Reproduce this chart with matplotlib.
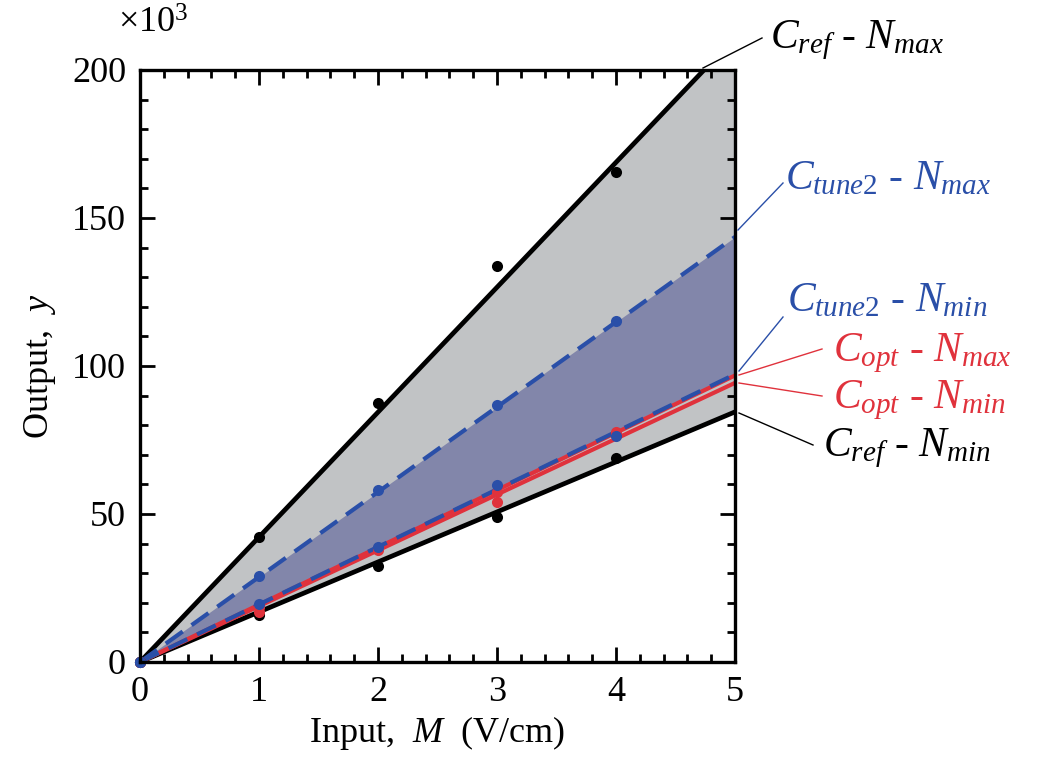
import numpy as np
import matplotlib
matplotlib.use("Agg")
import matplotlib.pyplot as plt

plt.rcParams['font.family'] = ['Liberation Serif', 'DejaVu Serif']
plt.rcParams['mathtext.fontset'] = 'custom'
plt.rcParams['mathtext.rm'] = 'Liberation Serif'
plt.rcParams['mathtext.it'] = 'Liberation Serif:italic'

# ---- data (values in units of 10^3) ----
x_line = [0, 5]
cref_nmax_line = [0, 211.0]
cref_nmin_line = [0, 84.5]
tune2_nmax_line = [0, 143.6]
tune2_nmin_line = [0, 97.2]
opt_nmax_line = [0, 96.8]
opt_nmin_line = [0, 94.3]

x_pts = [0, 1, 2, 3, 4]
cref_nmax_pts = [0, 42.3, 87.6, 133.8, 165.5]
cref_nmin_pts = [0, 15.9, 32.6, 49.0, 68.8]
tune2_nmax_pts = [0, 28.9, 58.0, 86.9, 115.2]
tune2_nmin_pts = [0, 19.6, 38.8, 59.8, 76.2]
opt_nmax_pts = [0, 18.6, 38.6, 57.4, 77.6]
opt_nmin_pts = [0, 16.9, 37.8, 54.2, 77.0]

labels = [r'$C_{ref}$ - $N_{max}$', r'$C_{tune2}$ - $N_{max}$', r'$C_{tune2}$ - $N_{min}$',
          r'$C_{opt}$ - $N_{max}$', r'$C_{opt}$ - $N_{min}$', r'$C_{ref}$ - $N_{min}$']

BLACK = '#000000'
BLUE = '#2a4fa8'
RED = '#e0323c'
GRAY_FILL = '#c1c3c5'
BLUE_FILL = '#8286aa'

fig = plt.figure(figsize=(10.42, 7.63), dpi=100)
ax = fig.add_axes([140/1042, 1-662/763, 595/1042, 592/763])

ax.fill_between(x_line, cref_nmin_line, cref_nmax_line, color=GRAY_FILL, lw=0, zorder=1)
ax.fill_between(x_line, tune2_nmin_line, tune2_nmax_line, color=BLUE_FILL, lw=0, zorder=2)

ax.plot(x_line, cref_nmax_line, color=BLACK, lw=3.4, zorder=3, solid_capstyle='butt')
ax.plot(x_line, cref_nmin_line, color=BLACK, lw=3.4, zorder=3, solid_capstyle='butt')
ax.plot(x_line, opt_nmax_line, color=RED, lw=3, zorder=4, solid_capstyle='butt')
ax.plot(x_line, opt_nmin_line, color=RED, lw=3, zorder=4, solid_capstyle='butt')
ax.plot(x_line, tune2_nmax_line, color=BLUE, lw=3, dashes=(5, 2.6), zorder=5)
ax.plot(x_line, tune2_nmin_line, color=BLUE, lw=3, dashes=(5, 2.6), zorder=5)

ms = 8
ax.plot(x_pts, cref_nmax_pts, 'o', color=BLACK, ms=ms, mew=0, zorder=6, clip_on=False)
ax.plot(x_pts, cref_nmin_pts, 'o', color=BLACK, ms=ms, mew=0, zorder=6, clip_on=False)
ax.plot(x_pts, opt_nmax_pts, 'o', color=RED, ms=ms, mew=0, zorder=7, clip_on=False)
ax.plot(x_pts, opt_nmin_pts, 'o', color=RED, ms=ms, mew=0, zorder=7, clip_on=False)
ax.plot(x_pts, tune2_nmax_pts, 'o', color=BLUE, ms=ms, mew=0, zorder=8, clip_on=False)
ax.plot(x_pts, tune2_nmin_pts, 'o', color=BLUE, ms=ms, mew=0, zorder=8, clip_on=False)

ax.set_xlim(0, 5)
ax.set_ylim(0, 200)
ax.set_xticks([0, 1, 2, 3, 4, 5])
ax.set_yticks([0, 50, 100, 150, 200])
ax.set_xticks(np.arange(0, 5.01, 0.2), minor=True)
ax.set_yticks(np.arange(0, 200.1, 10), minor=True)
ax.tick_params(which='both', direction='in', top=True, right=True, labelsize=26, width=2)
ax.tick_params(which='major', length=11)
ax.tick_params(which='minor', length=6)
ax.tick_params(axis='x', pad=10)
ax.tick_params(axis='y', pad=10)
for s in ax.spines.values():
    s.set_linewidth(2.4)
    s.set_zorder(10)

ax.set_xlabel(r'Input,  $M$  (V/cm)', fontsize=26, labelpad=4)
ax.set_ylabel(r'Output,  $y$', fontsize=26, labelpad=10)
fig.text(118/1042, 1-24/763, r'×10$^{3}$', fontsize=26, va='center', ha='left')

# annotation labels with leader lines (figure pixel coordinates)
ann = [
    (labels[0], BLACK, (703, 68), (762, 38), (770, 40)),
    (labels[1], BLUE, (738, 230), (783, 183), (785, 179)),
    (labels[2], BLUE, (739, 371), (783, 317), (787, 301)),
    (labels[3], RED, (739, 375), (822, 349), (833, 353)),
    (labels[4], RED, (739, 383), (822, 396), (833, 400)),
    (labels[5], BLACK, (739, 413), (813, 445), (823, 448)),
]
for text, col, p0, p1, pt in ann:
    fig.add_artist(plt.Line2D([p0[0]/1042, p1[0]/1042], [1-p0[1]/763, 1-p1[1]/763],
                              transform=fig.transFigure, color=col, lw=1))
    fig.text(pt[0]/1042, 1-pt[1]/763, text, color=col, fontsize=30, va='center', ha='left')

fig.savefig('out.png', dpi=100)
